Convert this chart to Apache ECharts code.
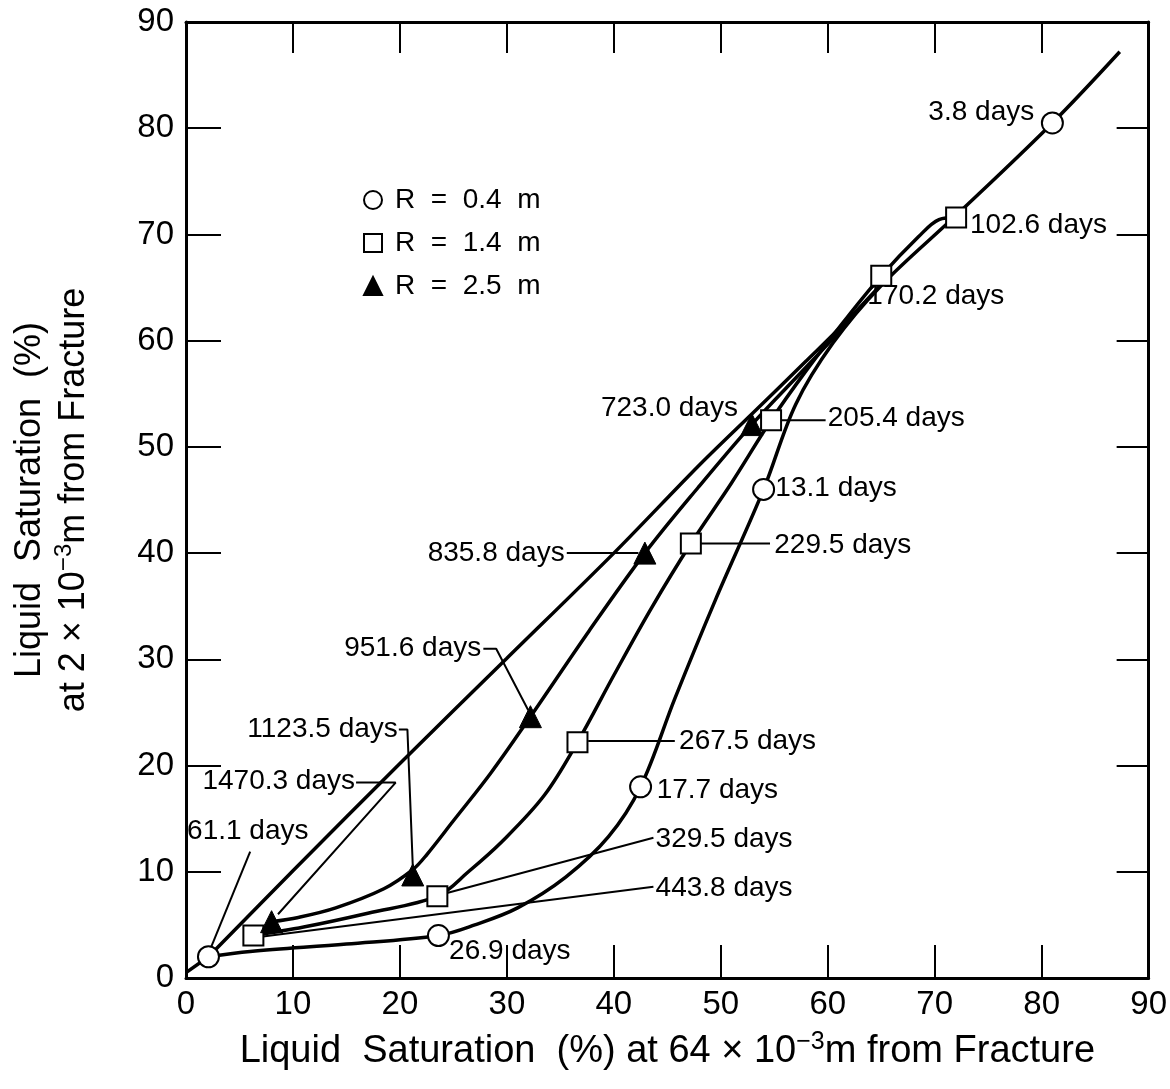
<!DOCTYPE html>
<html>
<head>
<meta charset="utf-8">
<script src="https://cdn.jsdelivr.net/npm/echarts@6/dist/echarts.min.js"></script>
<style>
  html,body{margin:0;padding:0;background:#fff}
  #chart{width:1170px;height:1089px}
</style>
</head>
<body>
<div id="chart"></div>
<script>
// curves: [x %, y %]
var r04Curve=[[87.3,87.2],[81,80.5],[72,71.8],[65,65.2],[60.5,59.8],[57,54],[54,46],[49.5,35.6],[45.7,26.3],[42.5,18],[39.5,13.3],[35.5,9.5],[31,6.6],[27,5],[23.6,4],[15,3.2],[6,2.5],[2.1,2]]
var r04Tail=[[2.1,2],[0,0.5]]
var r14Curve=[[72,71.6],[70.4,71.4],[68.5,69.8],[65,66.1],[61.5,61.8],[58,57.2],[54.7,52.5],[51,46.6],[47.2,40.9],[43.5,34.8],[40,28.5],[36.6,22.2],[33.5,17.2],[29.6,12.9],[26.4,10],[23.5,7.7],[17,6.1],[11,4.8],[6.3,4]]
var r25Curve=[[62,61.8],[57.5,57],[52.9,52.1],[47.9,46.2],[42.9,40],[37.7,32.7],[32.2,24.6],[28.5,19.3],[25,14.8],[22.5,11.6],[21.2,10.2],[18.5,8.4],[14,6.6],[10.5,5.7],[8,5.3]]
var diagCurve=[[2.1,2],[10,10.1],[20,20.2],[30,30.1],[40,40],[48,48.3],[53,53.2],[58,58.1],[62,62.1],[65,65.3]]

// marked times
var r04Marks=[[81,80.5],[54,46],[42.5,18],[23.6,4],[2.1,2]]
var r14Marks=[[72,71.6],[65,66.1],[54.7,52.5],[47.2,40.9],[36.6,22.2],[23.5,7.7],[6.3,4]]
var r25Marks=[[52.9,52.1],[42.9,40],[32.2,24.6],[21.2,9.7],[8,5.3]]

// notes: [x, y, text, side]
var notes=[
  [79.3,81.5,'3.8 days','right'],
  [73.3,70.9,'102.6 days','left'],
  [63.7,64.2,'170.2 days','left'],
  [60,52.7,'205.4 days','left'],
  [51.6,53.6,'723.0 days','right'],
  [55.1,46.1,'13.1 days','left'],
  [55,40.7,'229.5 days','left'],
  [35.4,40,'835.8 days','right'],
  [27.6,31,'951.6 days','right'],
  [19.8,23.4,'1123.5 days','right'],
  [15.8,18.5,'1470.3 days','right'],
  [0.1,13.8,'61.1 days','left'],
  [46.1,22.3,'267.5 days','left'],
  [44,17.7,'17.7 days','left'],
  [43.9,13.1,'329.5 days','left'],
  [43.9,8.4,'443.8 days','left'],
  [24.6,2.5,'26.9 days','left']
]

// leader lines
var leaders=[
  [[55.6,52.5],[59.8,52.5]],
  [[48.1,40.9],[54.6,40.9]],
  [[35.6,40],[42.3,40]],
  [[27.8,31],[29,31],[32,25.2]],
  [[19.9,23.4],[20.7,23.4],[21.2,10.6]],
  [[15.9,18.4],[19.6,18.4],[8.6,6]],
  [[6,11.9],[2.3,2.8]],
  [[37.6,22.3],[45.7,22.3]],
  [[24.4,8],[43.7,13.2]],
  [[7.2,3.9],[43.7,8.6]]
]

var font='"Liberation Sans", Arial, sans-serif'
var chart=echarts.init(document.getElementById('chart'))

var series=[]
function curve(d,s){
  series.push({type:'line',data:d,smooth:s,symbol:'none',silent:true,
    lineStyle:{color:'#000',width:3.5},z:3})
}
curve(r04Curve,0.35);curve(r04Tail,false);curve(r14Curve,0.35);curve(r25Curve,0.35);curve(diagCurve,0.3)
for(var i in leaders){
  series.push({type:'line',data:leaders[i],symbol:'none',silent:true,
    lineStyle:{color:'#000',width:2},z:2})
}
series.push({name:'R  =  0.4  m',type:'scatter',data:r04Marks,symbol:'circle',symbolSize:21,
  itemStyle:{color:'#fff',borderColor:'#000',borderWidth:2,opacity:1},z:5})
series.push({name:'R  =  1.4  m',type:'scatter',data:r14Marks,symbol:'rect',symbolSize:20,
  itemStyle:{color:'#fff',borderColor:'#000',borderWidth:2,opacity:1},z:5})
series.push({name:'R  =  2.5  m',type:'scatter',data:r25Marks,symbol:'triangle',symbolSize:22,
  itemStyle:{color:'#000',borderColor:'#000',borderWidth:1,opacity:1},z:5})
series.push({type:'scatter',symbolSize:0,silent:true,z:6,
  itemStyle:{opacity:1},
  data:notes.map(function(n){
    return {value:[n[0],n[1]],name:n[2],
      label:{align:n[3]=='left'?'left':'right'}}
  }),
  label:{show:true,position:'inside',formatter:'{b}',color:'#000',
    fontFamily:font,fontSize:28,verticalAlign:'middle'}
})

var option={
  animation:false,
  backgroundColor:'#fff',
  grid:{left:186,right:18,top:22,bottom:111},
  legend:{
    orient:'vertical',left:358,top:180,itemGap:13,itemWidth:18,itemHeight:18,
    selectedMode:false,
    textStyle:{fontFamily:font,fontSize:28,lineHeight:30,color:'#000',padding:[0,0,0,8]},
    data:['R  =  0.4  m','R  =  1.4  m','R  =  2.5  m']
  },
  xAxis:[{
    type:'value',min:0,max:90,interval:10,
    name:'Liquid  Saturation  (%) at 64 \u00d7 10{sup|\u22123}m from Fracture',
    nameLocation:'middle',nameGap:52,
    nameTextStyle:{fontFamily:font,fontSize:38,color:'#000',
      rich:{sup:{fontFamily:font,fontSize:25,color:'#000',verticalAlign:'top',padding:[0,0,19,0]}}},
    axisLine:{onZero:false,lineStyle:{color:'#000',width:3}},
    axisTick:{inside:true,length:33,lineStyle:{color:'#000',width:2}},
    axisLabel:{fontFamily:font,fontSize:33,color:'#000',margin:10},
    splitLine:{show:false}
  },{
    type:'value',min:0,max:90,interval:10,position:'top',
    axisLine:{show:true,onZero:false,lineStyle:{color:'#000',width:3}},
    axisTick:{inside:true,length:31,lineStyle:{color:'#000',width:2}},
    axisLabel:{show:false},splitLine:{show:false}
  }],
  yAxis:[{
    type:'value',min:0,max:90,interval:10,
    name:'Liquid  Saturation  (%)\nat 2 \u00d7 10{sup|\u22123}m from Fracture',
    nameLocation:'middle',nameGap:90,nameRotate:90,
    nameTextStyle:{fontFamily:font,fontSize:36,color:'#000',lineHeight:44,
      rich:{sup:{fontFamily:font,fontSize:24,color:'#000',verticalAlign:'top',padding:[0,0,18,0]}}},
    axisLine:{onZero:false,lineStyle:{color:'#000',width:3}},
    axisTick:{inside:true,length:35,lineStyle:{color:'#000',width:2}},
    axisLabel:{fontFamily:font,fontSize:33,color:'#000',margin:12},
    splitLine:{show:false}
  },{
    type:'value',min:0,max:90,interval:10,position:'right',
    axisLine:{show:true,onZero:false,lineStyle:{color:'#000',width:3}},
    axisTick:{inside:true,length:32,lineStyle:{color:'#000',width:2}},
    axisLabel:{show:false},splitLine:{show:false}
  }],
  series:series
}
chart.setOption(option)
</script>
</body>
</html>
